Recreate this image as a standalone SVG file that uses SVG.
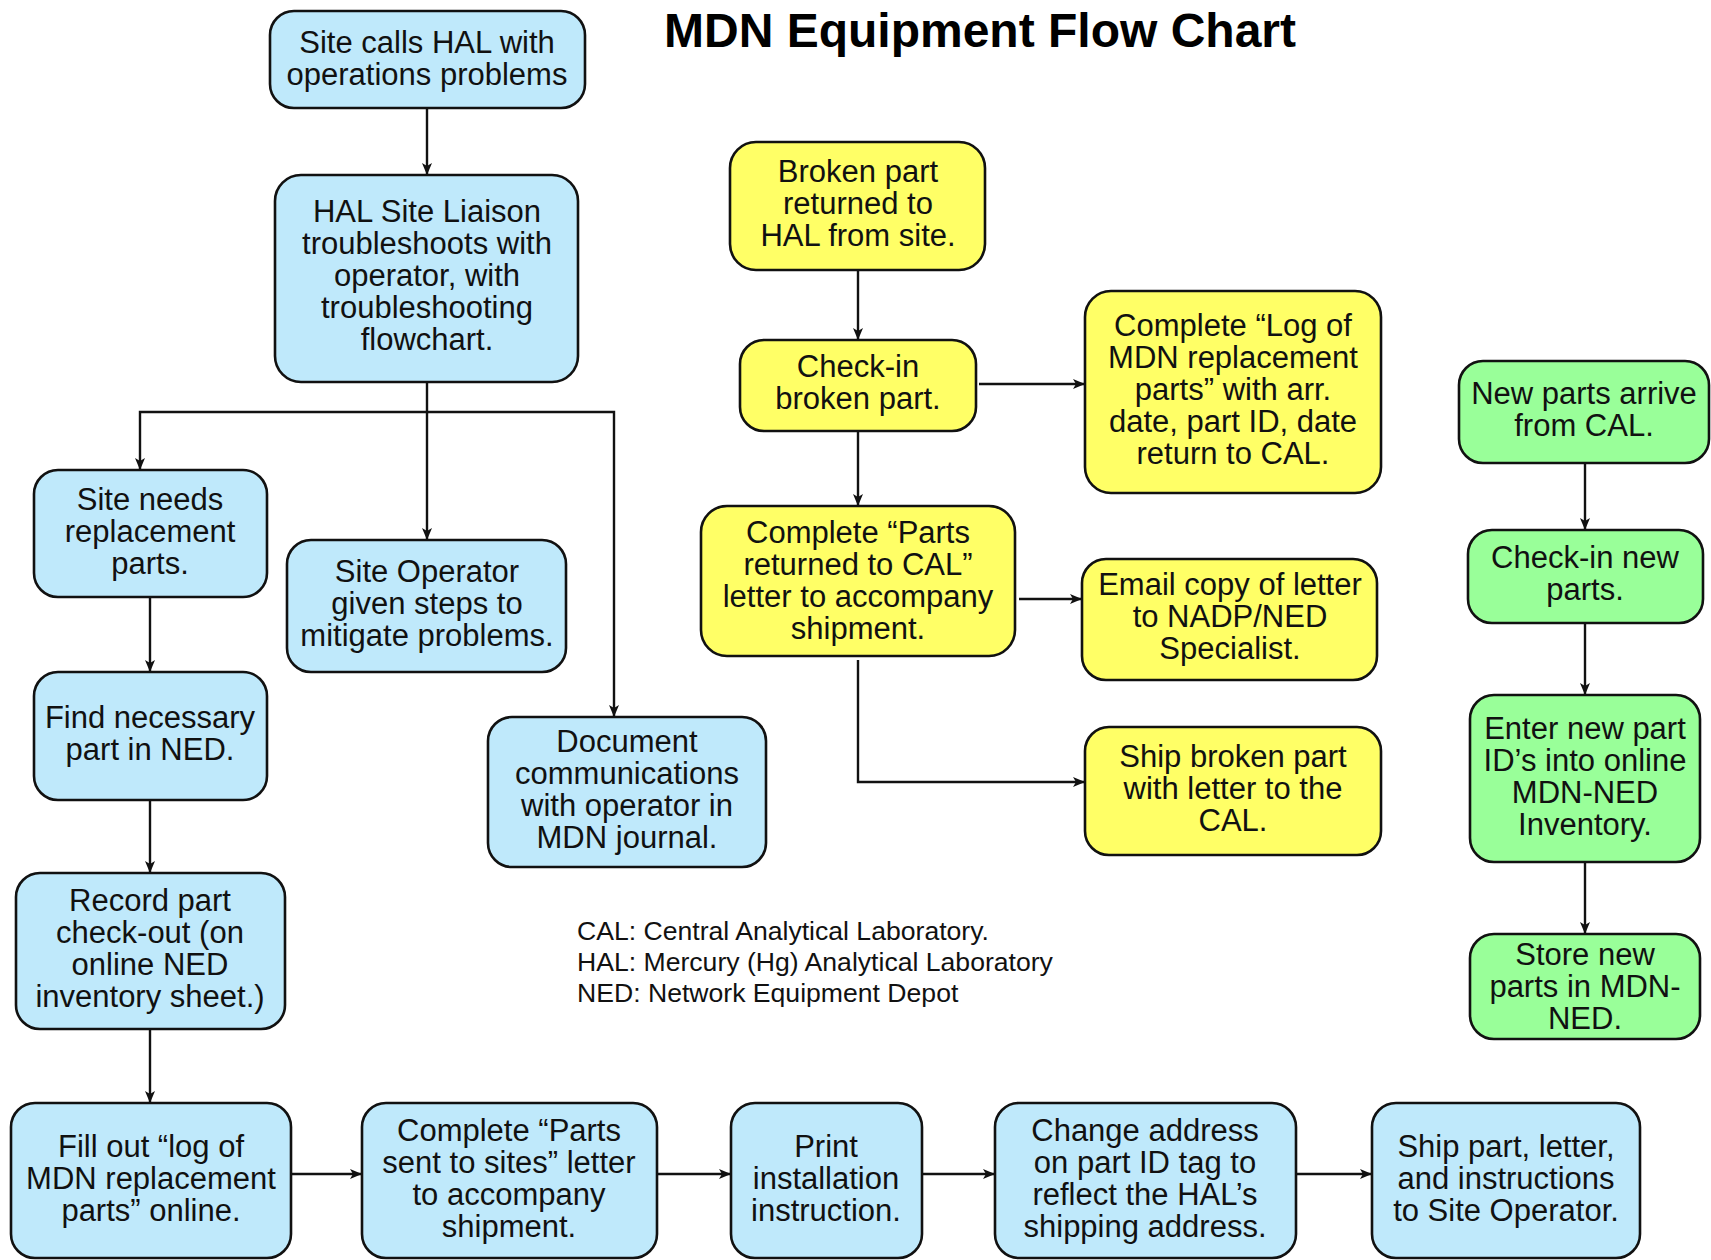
<svg xmlns="http://www.w3.org/2000/svg" width="1711" height="1260" viewBox="0 0 1711 1260">
<style>
.box{stroke:#111;stroke-width:2.6}
.b{fill:#bfe9fb}
.y{fill:#ffff66}
.g{fill:#99ff99}
.t{font-family:"Liberation Sans",Arial,sans-serif;font-size:31px;fill:#111;text-anchor:middle}
.lg{font-family:"Liberation Sans",Arial,sans-serif;font-size:26.6px;fill:#111}
.title{font-family:"Liberation Sans",Arial,sans-serif;font-size:48px;font-weight:bold;fill:#000;text-anchor:middle}
.c{fill:none;stroke:#111;stroke-width:2.4;marker-end:url(#ah)}
</style>
<defs>
<marker id="ah" markerUnits="userSpaceOnUse" markerWidth="14" markerHeight="12" refX="12" refY="5" orient="auto">
<path d="M0,0 L12,5 L0,10 L3,5 z" fill="#111"/>
</marker>
</defs>
<rect width="1711" height="1260" fill="#fff"/>
<text class="title" x="980" y="47">MDN Equipment Flow Chart</text>

<g id="connectors">
<path class="c" d="M427,108 V175"/>
<path class="c" d="M427,382 V412 H140 V470"/>
<path class="c" d="M427,412 V540"/>
<path class="c" d="M427,412 H614 V717"/>
<path class="c" d="M150,597 V672"/>
<path class="c" d="M150,800 V873"/>
<path class="c" d="M150,1029 V1103"/>
<path class="c" d="M291,1174 H362"/>
<path class="c" d="M657,1174 H731"/>
<path class="c" d="M922,1174 H995"/>
<path class="c" d="M1296,1174 H1372"/>
<path class="c" d="M858,270 V340"/>
<path class="c" d="M979,384 H1085"/>
<path class="c" d="M858,431 V506"/>
<path class="c" d="M1019,599 H1082"/>
<path class="c" d="M858,660 V782 H1085"/>
<path class="c" d="M1585,463 V530"/>
<path class="c" d="M1585,623 V695"/>
<path class="c" d="M1585,862 V934"/>
</g>

<g id="n1"><rect class="box b" x="270" y="11" width="315" height="97" rx="24"/>
<text class="t" x="427" y="53">Site calls HAL with</text><text class="t" x="427" y="85">operations problems</text></g>

<g id="n2"><rect class="box b" x="275" y="175" width="303" height="207" rx="26"/>
<text class="t" x="427" y="222">HAL Site Liaison</text><text class="t" x="427" y="254">troubleshoots with</text><text class="t" x="427" y="286">operator, with</text><text class="t" x="427" y="318">troubleshooting</text><text class="t" x="427" y="350">flowchart.</text></g>

<g id="n3"><rect class="box b" x="34" y="470" width="233" height="127" rx="24"/>
<text class="t" x="150" y="510">Site needs</text><text class="t" x="150" y="542">replacement</text><text class="t" x="150" y="574">parts.</text></g>

<g id="n4"><rect class="box b" x="287" y="540" width="279" height="132" rx="24"/>
<text class="t" x="427" y="582">Site Operator</text><text class="t" x="427" y="614">given steps to</text><text class="t" x="427" y="646">mitigate problems.</text></g>

<g id="n5"><rect class="box b" x="34" y="672" width="233" height="128" rx="24"/>
<text class="t" x="150" y="728">Find necessary</text><text class="t" x="150" y="760">part in NED.</text></g>

<g id="n6"><rect class="box b" x="488" y="717" width="278" height="150" rx="24"/>
<text class="t" x="627" y="752">Document</text><text class="t" x="627" y="784">communications</text><text class="t" x="627" y="816">with operator in</text><text class="t" x="627" y="848">MDN journal.</text></g>

<g id="n7"><rect class="box b" x="16" y="873" width="269" height="156" rx="24"/>
<text class="t" x="150" y="911">Record part</text><text class="t" x="150" y="943">check-out (on</text><text class="t" x="150" y="975">online NED</text><text class="t" x="150" y="1007">inventory sheet.)</text></g>

<g id="n8"><rect class="box b" x="11" y="1103" width="280" height="155" rx="24"/>
<text class="t" x="151" y="1157">Fill out “log of</text><text class="t" x="151" y="1189">MDN replacement</text><text class="t" x="151" y="1221">parts” online.</text></g>

<g id="n9"><rect class="box b" x="362" y="1103" width="295" height="155" rx="24"/>
<text class="t" x="509" y="1141">Complete “Parts</text><text class="t" x="509" y="1173">sent to sites” letter</text><text class="t" x="509" y="1205">to accompany</text><text class="t" x="509" y="1237">shipment.</text></g>

<g id="n10"><rect class="box b" x="731" y="1103" width="191" height="155" rx="24"/>
<text class="t" x="826" y="1157">Print</text><text class="t" x="826" y="1189">installation</text><text class="t" x="826" y="1221">instruction.</text></g>

<g id="n11"><rect class="box b" x="995" y="1103" width="301" height="155" rx="24"/>
<text class="t" x="1145" y="1141">Change address</text><text class="t" x="1145" y="1173">on part ID tag to</text><text class="t" x="1145" y="1205">reflect the HAL’s</text><text class="t" x="1145" y="1237">shipping address.</text></g>

<g id="n12"><rect class="box b" x="1372" y="1103" width="268" height="155" rx="24"/>
<text class="t" x="1506" y="1157">Ship part, letter,</text><text class="t" x="1506" y="1189">and instructions</text><text class="t" x="1506" y="1221">to Site Operator.</text></g>

<g id="n13"><rect class="box y" x="730" y="142" width="255" height="128" rx="26"/>
<text class="t" x="858" y="182">Broken part</text><text class="t" x="858" y="214">returned to</text><text class="t" x="858" y="246">HAL from site.</text></g>

<g id="n14"><rect class="box y" x="740" y="340" width="236" height="91" rx="24"/>
<text class="t" x="858" y="377">Check-in</text><text class="t" x="858" y="409">broken part.</text></g>

<g id="n15"><rect class="box y" x="1085" y="291" width="296" height="202" rx="26"/>
<text class="t" x="1233" y="336">Complete “Log of</text><text class="t" x="1233" y="368">MDN replacement</text><text class="t" x="1233" y="400">parts” with arr.</text><text class="t" x="1233" y="432">date, part ID, date</text><text class="t" x="1233" y="464">return to CAL.</text></g>

<g id="n16"><rect class="box y" x="701" y="506" width="314" height="150" rx="26"/>
<text class="t" x="858" y="543">Complete “Parts</text><text class="t" x="858" y="575">returned to CAL”</text><text class="t" x="858" y="607">letter to accompany</text><text class="t" x="858" y="639">shipment.</text></g>

<g id="n17"><rect class="box y" x="1082" y="559" width="295" height="121" rx="24"/>
<text class="t" x="1230" y="595">Email copy of letter</text><text class="t" x="1230" y="627">to NADP/NED</text><text class="t" x="1230" y="659">Specialist.</text></g>

<g id="n18"><rect class="box y" x="1085" y="727" width="296" height="128" rx="24"/>
<text class="t" x="1233" y="767">Ship broken part</text><text class="t" x="1233" y="799">with letter to the</text><text class="t" x="1233" y="831">CAL.</text></g>

<g id="n19"><rect class="box g" x="1459" y="361" width="250" height="102" rx="24"/>
<text class="t" x="1584" y="404">New parts arrive</text><text class="t" x="1584" y="436">from CAL.</text></g>

<g id="n20"><rect class="box g" x="1468" y="530" width="235" height="93" rx="24"/>
<text class="t" x="1585" y="568">Check-in new</text><text class="t" x="1585" y="600">parts.</text></g>

<g id="n21"><rect class="box g" x="1470" y="695" width="230" height="167" rx="24"/>
<text class="t" x="1585" y="739">Enter new part</text><text class="t" x="1585" y="771">ID’s into online</text><text class="t" x="1585" y="803">MDN-NED</text><text class="t" x="1585" y="835">Inventory.</text></g>

<g id="n22"><rect class="box g" x="1470" y="934" width="230" height="105" rx="24"/>
<text class="t" x="1585" y="965">Store new</text><text class="t" x="1585" y="997">parts in MDN-</text><text class="t" x="1585" y="1029">NED.</text></g>

<g id="legend">
<text class="lg" x="577" y="940">CAL: Central Analytical Laboratory.</text>
<text class="lg" x="577" y="971">HAL: Mercury (Hg) Analytical Laboratory</text>
<text class="lg" x="577" y="1002">NED: Network Equipment Depot</text>
</g>
</svg>
